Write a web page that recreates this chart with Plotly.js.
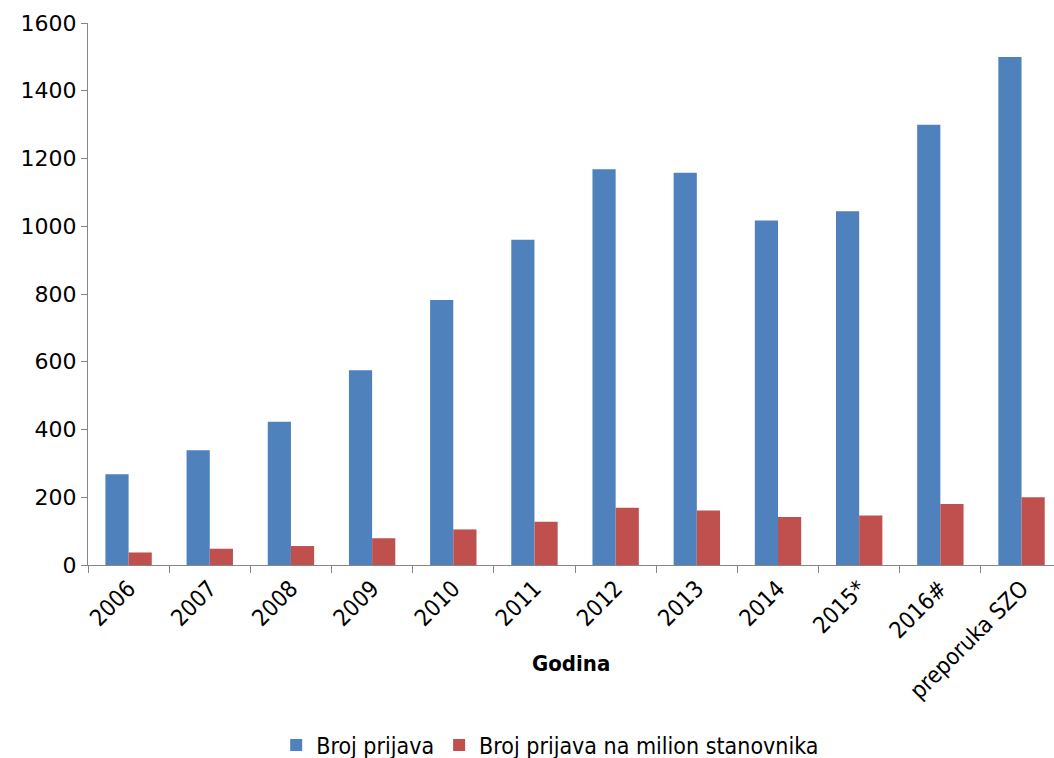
<!DOCTYPE html>
<html>
<head>
<meta charset="utf-8">
<script src="https://cdn.plot.ly/plotly-3.0.1.min.js"></script>
<style>html,body{margin:0;padding:0;background:#fff;}#chart{width:1054px;height:758px;}</style>
</head>
<body>
<div id="chart"></div>
<script>
const categories = ["2006","2007","2008","2009","2010","2011","2012","2013","2014","2015*","2016#","preporuka SZO"];
const brojPrijava = [268, 339, 423, 575, 782, 960, 1168, 1158, 1017, 1044, 1300, 1500];
const brojNaMilion = [37, 48, 56, 79, 105, 128, 169, 161, 142, 146, 180, 200];
const seriesNames = ["Broj prijava", "Broj prijava na milion stanovnika"];
const yTicks = [0, 200, 400, 600, 800, 1000, 1200, 1400, 1600];
const xTitle = "Godina";

const narrow = '"Liberation Sans Narrow", "DejaVu Sans Condensed", sans-serif';

const traces = [
  {type: 'bar', name: seriesNames[0], x: categories, y: brojPrijava, marker: {color: '#4F81BD'}},
  {type: 'bar', name: seriesNames[1], x: categories, y: brojNaMilion, marker: {color: '#C0504D'}}
];

const layout = {
  width: 1054, height: 758,
  margin: {l: 88, r: 0, t: 23, b: 193},
  paper_bgcolor: '#ffffff', plot_bgcolor: '#ffffff',
  barmode: 'group', bargap: 0.4286, bargroupgap: 0,
  showlegend: true,
  legend: {orientation: 'h', xref: 'container', yref: 'container', x: 0.522, xanchor: 'center', y: 0.017, yanchor: 'middle',
           font: {family: narrow, size: 23, color: '#000'}, itemwidth: 30, tracegroupgap: 0},
  xaxis: {
    type: 'category', range: [-0.5, 11.4], automargin: false,
    showline: true, linecolor: '#868686', linewidth: 1,
    ticks: 'outside', tickson: 'boundaries', ticklen: 7, tickcolor: '#868686',
    tickangle: -45, tickfont: {family: narrow, size: 23, color: '#000'},
    showgrid: false, zeroline: false
  },
  yaxis: {
    range: [0, 1600], tickvals: yTicks, automargin: false,
    showline: true, linecolor: '#868686', linewidth: 1,
    ticks: 'outside', ticklen: 6, tickcolor: '#868686',
    tickfont: {family: '"DejaVu Sans", sans-serif', size: 22, color: '#000'},
    showgrid: false, zeroline: false
  },
  annotations: [{
    text: '<b>' + xTitle + '</b>', xref: 'paper', yref: 'paper',
    x: 0.5, y: -0.181, xanchor: 'center', yanchor: 'middle', showarrow: false,
    font: {family: narrow, size: 22, color: '#000'}
  }]
};

Plotly.newPlot('chart', traces, layout, {displayModeBar: false, staticPlot: true});
</script>
</body>
</html>
